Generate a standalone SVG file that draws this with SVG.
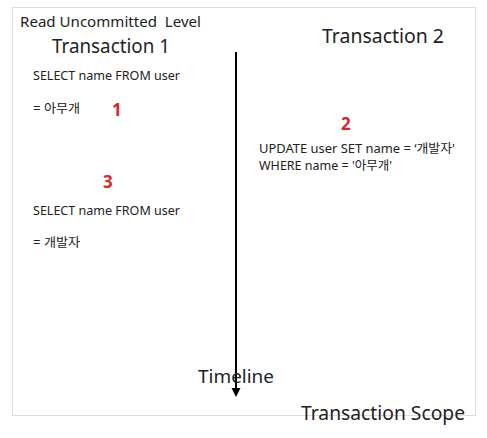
<svg xmlns="http://www.w3.org/2000/svg" width="487" height="438" viewBox="0 0 487 438">
<style>
text{font-family:"Noto Sans","Noto Sans CJK KR",sans-serif;fill:#222}
.s{font-size:12.3px}
.h{font-size:20px}
.n{font-size:17px;font-weight:bold;fill:#d9262b}
</style>
<rect width="487" height="438" fill="#fff"/>
<g id="scope">
<rect x="12.5" y="7.5" width="463" height="408" fill="none" stroke="#dcdcdc" stroke-width="1"/>
<text x="20" y="27" style="font-size:15px;white-space:pre" textLength="181" lengthAdjust="spacingAndGlyphs" xml:space="preserve">Read Uncommitted  Level</text>
<text x="301" y="420" style="font-size:19px" textLength="164" lengthAdjust="spacingAndGlyphs">Transaction Scope</text>
</g>
<g id="t1">
<text class="h" x="52" y="53" textLength="118" lengthAdjust="spacingAndGlyphs">Transaction 1</text>
<text class="s" x="33" y="80" textLength="147" lengthAdjust="spacingAndGlyphs">SELECT name FROM user</text>
<text class="s" x="33" y="113" textLength="47" lengthAdjust="spacingAndGlyphs">= 아무개</text>
<text class="n" x="112" y="116">1</text>
<text class="n" x="103" y="188">3</text>
<text class="s" x="33" y="215" textLength="147" lengthAdjust="spacingAndGlyphs">SELECT name FROM user</text>
<text class="s" x="33" y="247" textLength="47" lengthAdjust="spacingAndGlyphs">= 개발자</text>
</g>
<g id="t2">
<text class="h" x="322" y="43" textLength="122" lengthAdjust="spacingAndGlyphs">Transaction 2</text>
<text class="n" x="341" y="130">2</text>
<text class="s" x="259" y="153" textLength="196" lengthAdjust="spacingAndGlyphs">UPDATE user SET name = ‘개발자'</text>
<text class="s" x="259" y="170" textLength="133" lengthAdjust="spacingAndGlyphs">WHERE name = '아무개'</text>
</g>
<g id="connectors">
<line x1="236" y1="52" x2="236" y2="389" stroke="#000" stroke-width="2"/>
<path d="M231.5,388 L240.5,388 L236,397 Z" fill="#000"/>
<text x="198" y="383" style="font-size:18px" textLength="76" lengthAdjust="spacingAndGlyphs">Timeline</text>
</g>
</svg>
